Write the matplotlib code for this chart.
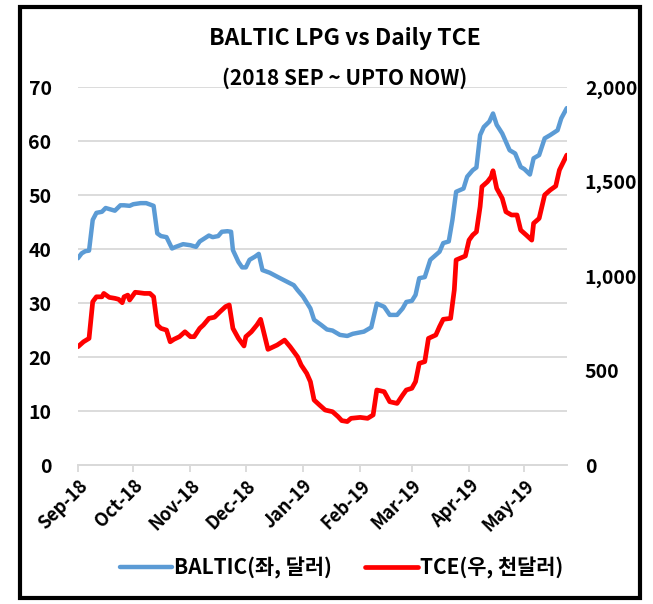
import matplotlib
matplotlib.use("Agg")
import matplotlib.pyplot as plt
import matplotlib.dates as mdates
from matplotlib.patches import Rectangle
from matplotlib.ticker import FuncFormatter
import pandas as pd

plt.rcParams["font.family"] = ["Noto Sans CJK KR", "DejaVu Sans"]
plt.rcParams["font.weight"] = "bold"

start = pd.Timestamp("2018-09-01")

# BALTIC LPG (USD, left axis) - days since 2018-09-01
baltic_days = [0, 2, 4, 6, 8, 10, 13, 15, 17, 20, 23, 25, 28, 30, 34, 37, 41, 43, 45, 48,
               51, 53, 57, 61, 64, 66, 71, 73, 76, 78, 81, 83, 84, 87, 89, 91, 93, 96, 98, 100,
               104, 109, 113, 117, 119, 122, 126, 128, 132, 135, 138, 142, 146, 149, 155, 159, 162, 166, 169, 173,
               176, 178, 181, 183, 185, 188, 191, 194, 196, 198, 201, 203, 205, 209, 211, 214, 216, 218, 220, 223,
               225, 227, 230, 234, 237, 240, 242, 245, 247, 250, 253, 256, 260, 262, 265]
baltic = [38.3, 39.2, 39.6, 39.7, 45.4, 46.7, 46.9, 47.6, 47.4, 47.1, 48.1, 48.1, 48.0, 48.3, 48.5, 48.5, 48.0, 42.9, 42.4, 42.2,
          40.1, 40.4, 40.9, 40.7, 40.4, 41.4, 42.5, 42.2, 42.4, 43.2, 43.3, 43.2, 39.8, 37.6, 36.6, 36.6, 38.0, 38.6, 39.1, 36.1,
          35.6, 34.7, 34.0, 33.3, 32.4, 31.2, 29.0, 26.9, 25.9, 25.1, 24.9, 24.1, 23.9, 24.3, 24.7, 25.5, 29.9, 29.3, 27.8, 27.8,
          29.0, 30.2, 30.4, 31.5, 34.6, 34.8, 38.0, 38.9, 39.5, 41.1, 41.4, 45.4, 50.6, 51.2, 53.4, 54.6, 55.1, 61.1, 62.6, 63.6,
          65.1, 63.0, 61.4, 58.3, 57.7, 55.2, 54.8, 53.8, 56.8, 57.4, 60.5, 61.1, 62.0, 64.2, 66.1]

# Daily TCE (USD, right axis) - days since 2018-09-01
tce_days = [0, 3, 6, 8, 10, 13, 14, 17, 20, 22, 24, 25, 27, 28, 31, 33, 36, 39, 41, 43,
            45, 48, 50, 52, 55, 58, 61, 63, 66, 68, 71, 74, 77, 80, 82, 84, 87, 90, 91, 94,
            97, 99, 103, 108, 112, 115, 119, 121, 124, 126, 128, 131, 134, 138, 141, 143, 146, 148, 153, 157,
            160, 162, 166, 169, 173, 176, 178, 181, 183, 185, 188, 190, 194, 196, 198, 202, 204, 205, 210, 212,
            214, 216, 218, 219, 222, 224, 225, 227, 230, 232, 235, 238, 240, 243, 246, 247, 250, 253, 256, 259,
            261, 265]
tce = [626, 652, 670, 864, 890, 890, 908, 887, 882, 877, 859, 890, 899, 873, 914, 912, 908, 908, 890, 741,
       723, 714, 652, 665, 679, 705, 679, 679, 723, 741, 776, 782, 811, 838, 847, 723, 670, 630, 679, 705,
       741, 771, 612, 635, 661, 626, 573, 529, 485, 441, 344, 317, 291, 282, 256, 235, 230, 247, 252, 247,
       265, 397, 388, 335, 326, 370, 397, 406, 441, 538, 547, 670, 688, 732, 771, 776, 926, 1085, 1106, 1190,
       1217, 1234, 1367, 1473, 1499, 1525, 1557, 1464, 1411, 1340, 1323, 1323, 1243, 1217, 1190, 1279, 1305, 1429, 1455, 1476,
       1561, 1640]

baltic_dates = start + pd.to_timedelta(baltic_days, unit="D")
tce_dates = start + pd.to_timedelta(tce_days, unit="D")

fig = plt.figure(figsize=(6.53, 6.04), dpi=100)
ax = fig.add_axes([0.1194, 0.2301, 0.7486, 0.6258])
ax2 = ax.twinx()

l1, = ax.plot(baltic_dates, baltic, color="#5B9BD5", linewidth=3.2, label="BALTIC(좌, 달러)",
              solid_joinstyle="round", solid_capstyle="round")
l2, = ax2.plot(tce_dates, tce, color="#FF0000", linewidth=3.4, label="TCE(우, 천달러)",
               solid_joinstyle="round", solid_capstyle="round")

ax.set_ylim(0, 70)
ax.set_yticks(range(0, 71, 10))
ax2.set_ylim(0, 2000)
ax2.set_yticks(range(0, 2001, 500))
ax2.yaxis.set_major_formatter(FuncFormatter(lambda v, p: f"{int(v):,}"))
ax.set_xlim(start, start + pd.Timedelta(days=265))

ax.grid(axis="y", color="#d9d9d9", linewidth=1.3)
ax.set_axisbelow(True)
for a in (ax, ax2):
    for s in ("left", "right", "top"):
        a.spines[s].set_visible(False)
    a.spines["bottom"].set_color("#d9d9d9")
    a.spines["bottom"].set_linewidth(1.3)

ax.tick_params(axis="y", length=0, pad=19, labelsize=14)
ax2.tick_params(axis="y", length=0, pad=13, labelsize=14)
ax.xaxis.set_major_locator(mdates.MonthLocator())
ax.xaxis.set_major_formatter(mdates.DateFormatter("%b-%y"))
ax.tick_params(axis="x", length=5, color="#d9d9d9", width=1.3, labelsize=13, pad=3)
for lab in ax.get_xticklabels():
    lab.set_rotation(45)
    lab.set_ha("right")
    lab.set_rotation_mode("anchor")
for lab in ax.get_yticklabels() + ax2.get_yticklabels() + ax.get_xticklabels():
    lab.set_fontweight("bold")

fig.text(0.528, 0.937, "BALTIC LPG vs Daily TCE", ha="center", va="center",
         fontsize=16.5, fontweight="bold")
fig.text(0.528, 0.871, "(2018 SEP ~ UPTO NOW)", ha="center", va="center",
         fontsize=15, fontweight="bold")

fig.legend(handles=[l1, l2], loc="center", bbox_to_anchor=(0.523, 0.06), ncol=2,
           frameon=False, handlelength=2.5, columnspacing=1.6, handletextpad=0.1,
           prop={"size": 15, "weight": "bold"})

fig.patches.append(Rectangle((0.03, 0.01), 0.95, 0.978, transform=fig.transFigure,
                             fill=False, edgecolor="black", linewidth=3))

plt.savefig("out.png", dpi=100)
